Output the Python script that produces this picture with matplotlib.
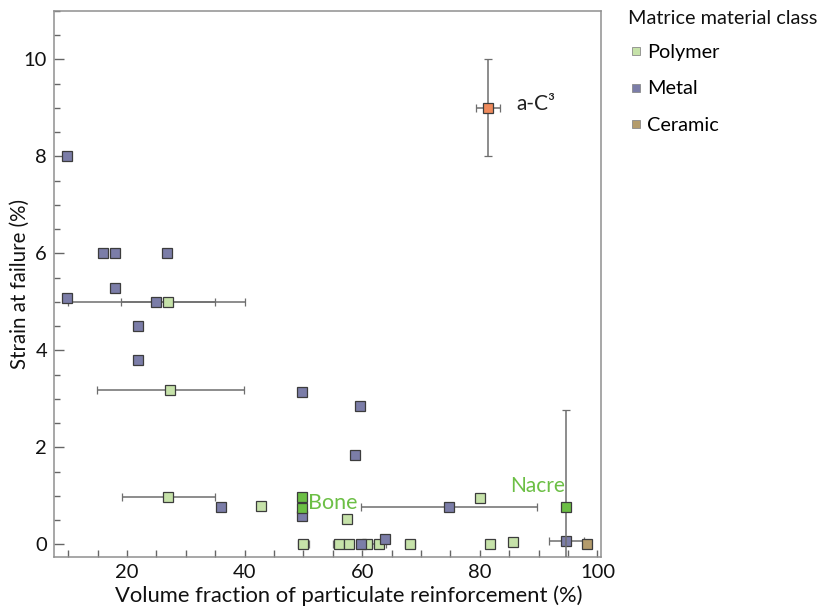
import matplotlib
matplotlib.use("Agg")
import matplotlib.pyplot as plt
from matplotlib.lines import Line2D
from matplotlib.ticker import MultipleLocator

plt.rcParams['font.family'] = ['Lato', 'DejaVu Sans']

# ---- data ----
polymer_x = [27, 27.4, 27, 42.8, 57.5, 80, 81.7, 85.6, 50, 56, 57.8, 60.8, 62.8, 68.1]
polymer_y = [5.0, 3.18, 0.98, 0.79, 0.53, 0.96, 0.0, 0.04, 0.0, 0.0, 0.0, 0.0, 0.0, 0.0]
polymer_xerr = [8, 12.5, 7.9, 0, 0, 0, 0, 0, 0.9, 0.9, 0, 0.9, 1.2, 0.8]

metal_x = [9.8, 15.9, 18, 26.8, 18, 9.8, 25, 21.9, 21.9, 49.8, 59.6, 58.8, 36, 49.8, 74.8, 94.7, 63.9, 59.8]
metal_y = [8.0, 6.0, 6.0, 6.0, 5.28, 5.08, 5.0, 4.5, 3.8, 3.14, 2.86, 1.84, 0.77, 0.58, 0.77, 0.07, 0.12, 0.0]
metal_xerr = [0, 0, 0, 0, 0, 0, 15, 0, 0, 0, 0, 0, 0, 0, 15, 3, 0, 0]

ceramic_x = [98.2]
ceramic_y = [0.0]

bio_x = [49.8, 49.8, 94.7]          # Bone, Bone, Nacre
bio_y = [0.98, 0.75, 0.77]
bio_yerr = [0.08, 0.0, 2.0]

ac3_x = [81.4]
ac3_y = [9.0]
ac3_xerr = [2.1]
ac3_yerr = [1.0]

legend_labels = ["Polymer", "Metal", "Ceramic"]
legend_title = "Matrice material class"

# ---- colours ----
c_poly = "#c6e2a9"
c_metal = "#7b7da8"
c_ceram = "#b49c6c"
c_bio = "#6cbf45"
c_ac3 = "#ef8a5c"
c_err = "#6e6e6e"
c_edge = "#3c3c3c"

fig = plt.figure(figsize=(8.2, 6.12), dpi=100)
ax = fig.add_axes([54/820, 1-557/612, (601-54)/820, (557-11)/612])

ebkw = dict(fmt='s', ms=7, mec=c_edge, mew=0.9, ecolor=c_err, elinewidth=1.1,
            capsize=3, capthick=1.1)

ax.errorbar(polymer_x, polymer_y, xerr=polymer_xerr, mfc=c_poly, zorder=3, **ebkw)
ax.errorbar(metal_x, metal_y, xerr=metal_xerr, mfc=c_metal, zorder=3, **ebkw)
ax.errorbar(ceramic_x, ceramic_y, mfc=c_ceram, zorder=3, **ebkw)
ax.errorbar(bio_x, bio_y, yerr=bio_yerr, mfc=c_bio, zorder=4, **ebkw)
ax.errorbar(ac3_x, ac3_y, xerr=ac3_xerr, yerr=ac3_yerr, mfc=c_ac3, zorder=4, **ebkw)

ax.text(86.2, 9.09, "a-C³", fontsize=15, color="#222222", va='center', ha='left')
ax.text(50.8, 0.85, "Bone", fontsize=15.5, color=c_bio, va='center', ha='left')
ax.text(85.1, 1.2, "Nacre", fontsize=15, color=c_bio, va='center', ha='left')

ax.set_xlim(7.6, 100.6)
ax.set_ylim(-0.26, 11.0)

ax.xaxis.set_major_locator(MultipleLocator(20))
ax.xaxis.set_minor_locator(MultipleLocator(5))
ax.yaxis.set_major_locator(MultipleLocator(2))
ax.yaxis.set_minor_locator(MultipleLocator(0.5))

ax.tick_params(axis='both', which='both', direction='in', colors='#666666',
               labelcolor='#111111', labelsize=14.5, top=False, right=False)
ax.tick_params(axis='y', which='major', length=7, width=1.0, pad=5)
ax.tick_params(axis='y', which='minor', length=4, width=1.0)
ax.tick_params(axis='x', which='major', length=5, width=1.0, pad=5)
ax.tick_params(axis='x', which='minor', length=5, width=1.0)

for s in ax.spines.values():
    s.set_color('#909090')
    s.set_linewidth(1.1)

ax.set_xlabel("Volume fraction of particulate reinforcement (%)", fontsize=15.8, color='#111111')
ax.set_ylabel("Strain at failure (%)", fontsize=14.8, color='#111111')
ax.xaxis.set_label_coords((349-54)/547, (557-585)/546)
ax.yaxis.set_label_coords((30-54)/547, 0.5)

# legend: title as separate text, entries as a frameless legend
fig.text(628/820, 1-18/612, legend_title, fontsize=14.3, color='#111111',
         ha='left', va='center')
handles = [Line2D([], [], ls='', marker='s', ms=6, mfc=c, mec='#8a8a8a', mew=0.6)
           for c in (c_poly, c_metal, c_ceram)]
leg = fig.legend(handles, legend_labels, loc='center left',
                 bbox_to_anchor=(631/820, 1-89/612), frameon=False, fontsize=14.3,
                 handlelength=0.5, handletextpad=0.3, labelspacing=1.0,
                 borderaxespad=0, borderpad=0)

fig.savefig("out.png", dpi=100)
